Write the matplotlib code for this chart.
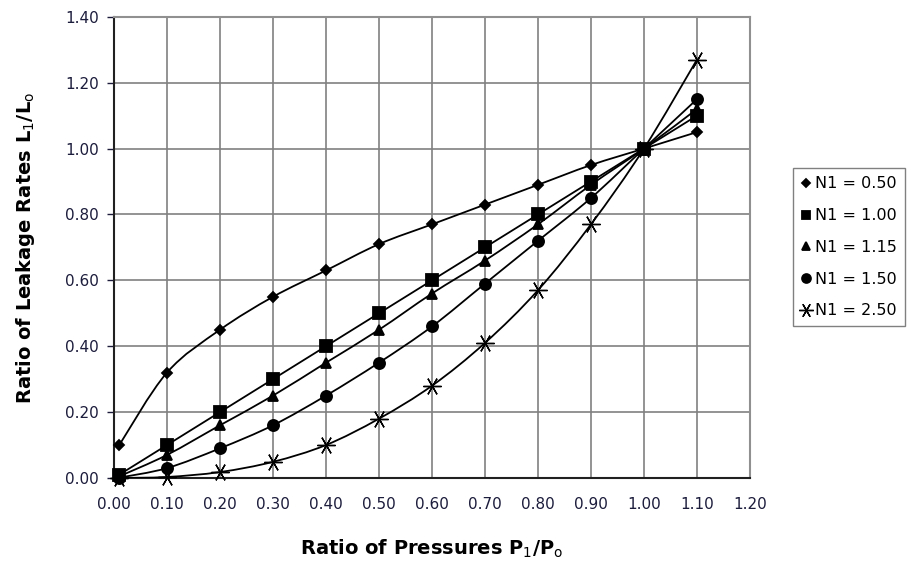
"""
Leakage rate ratio vs pressure ratio for several N1 exponents.
Writes out.png (917x562).
"""

import matplotlib
matplotlib.use("Agg")
import matplotlib.pyplot as plt
from matplotlib.path import Path
from matplotlib.patches import PathPatch

plt.rcParams["font.family"] = ["DejaVu Sans"]
plt.rcParams["mathtext.fontset"] = "custom"
plt.rcParams["mathtext.rm"] = "DejaVu Sans"
plt.rcParams["mathtext.bf"] = "DejaVu Sans:bold"

# pressure ratio P1/Po
p_ratio = [0.01, 0.10, 0.20, 0.30, 0.40, 0.50, 0.60, 0.70, 0.80, 0.90, 1.00, 1.10]

# leakage ratio L1/Lo
n050 = [0.10, 0.32, 0.45, 0.55, 0.63, 0.71, 0.77, 0.83, 0.89, 0.95, 1.00, 1.05]
n100 = [0.01, 0.10, 0.20, 0.30, 0.40, 0.50, 0.60, 0.70, 0.80, 0.90, 1.00, 1.10]
n115 = [0.005, 0.07, 0.16, 0.25, 0.35, 0.45, 0.56, 0.66, 0.77, 0.89, 1.00, 1.12]
n150 = [0.001, 0.03, 0.09, 0.16, 0.25, 0.35, 0.46, 0.59, 0.72, 0.85, 1.00, 1.15]
n250 = [0.00, 0.003, 0.018, 0.049, 0.10, 0.18, 0.28, 0.41, 0.57, 0.77, 1.00, 1.27]

labels = ["N1 = 0.50", "N1 = 1.00", "N1 = 1.15", "N1 = 1.50", "N1 = 2.50"]
series = [n050, n100, n115, n150, n250]
markers = ["D", "s", "^", "o", (6, 2, 90)]
msizes = [5.5, 8, 7, 8, 13]
mwidths = [1.3, 1.3, 1.3, 1.3, 1.0]

xticks = [0.0, 0.1, 0.2, 0.3, 0.4, 0.5, 0.6, 0.7, 0.8, 0.9, 1.0, 1.1, 1.2]
yticks = [0.0, 0.2, 0.4, 0.6, 0.8, 1.0, 1.2, 1.4]

TICK_COLOR = "#1c1c3c"


def smooth_path(xs, ys):
    # Excel-style smoothed line: cubic Bezier segments through the points
    verts = [(xs[0], ys[0])]
    codes = [Path.MOVETO]
    n = len(xs)
    for i in range(n - 1):
        x0, y0 = (xs[i - 1], ys[i - 1]) if i > 0 else (xs[i], ys[i])
        x1, y1 = xs[i], ys[i]
        x2, y2 = xs[i + 1], ys[i + 1]
        x3, y3 = (xs[i + 2], ys[i + 2]) if i + 2 < n else (x2, y2)
        c1 = (x1 + (x2 - x0) / 6, y1 + (y2 - y0) / 6)
        c2 = (x2 - (x3 - x1) / 6, y2 - (y3 - y1) / 6)
        verts += [c1, c2, (x2, y2)]
        codes += [Path.CURVE4] * 3
    return Path(verts, codes)


def main():
    fig = plt.figure(figsize=(9.17, 5.62), dpi=100)
    ax = fig.add_axes([0.1243, 0.1495, 0.6935, 0.8205])

    for ys, lab, mk, ms, mw in zip(series, labels, markers, msizes, mwidths):
        ax.add_patch(PathPatch(smooth_path(p_ratio, ys), fill=False,
                               edgecolor="black", lw=1.3, zorder=3))
        ax.plot(p_ratio, ys, linestyle="none", marker=mk, ms=ms, color="black",
                mew=mw, label=lab, zorder=4, clip_on=False)

    ax.set_xlim(0, 1.2)
    ax.set_ylim(0, 1.4)
    ax.set_xticks(xticks)
    ax.set_yticks(yticks)
    ax.set_xticklabels([f"{v:.2f}" for v in xticks])
    ax.set_yticklabels([f"{v:.2f}" for v in yticks])
    ax.tick_params(labelsize=11, colors=TICK_COLOR, length=5, width=1,
                   direction="out", pad=6)
    ax.tick_params(axis="x", length=0, pad=14)
    ax.grid(True, color="#808080", lw=1.2)
    ax.set_axisbelow(True)
    for side in ["top", "right"]:
        ax.spines[side].set_color("#909090")
        ax.spines[side].set_linewidth(1.5)
    for side in ["left", "bottom"]:
        ax.spines[side].set_color("#202020")
        ax.spines[side].set_linewidth(1.5)

    ax.set_xlabel(r"Ratio of Pressures P$_1$/P$_\mathrm{o}$", fontsize=14,
                  fontweight="bold", labelpad=18)
    ax.set_ylabel(r"Ratio of Leakage Rates L$_1$/L$_\mathrm{o}$", fontsize=14,
                  fontweight="bold", labelpad=20)

    leg = ax.legend(loc="center left", bbox_to_anchor=(1.055, 0.5),
                    fontsize=11.5, frameon=True, fancybox=False,
                    handlelength=0.6, handletextpad=0.3, labelspacing=1.05,
                    borderpad=0.5, markerscale=0.8)
    leg.get_frame().set_edgecolor("#606060")
    leg.get_frame().set_linewidth(1.0)

    fig.savefig("out.png", dpi=100)


if __name__ == "__main__":
    main()
